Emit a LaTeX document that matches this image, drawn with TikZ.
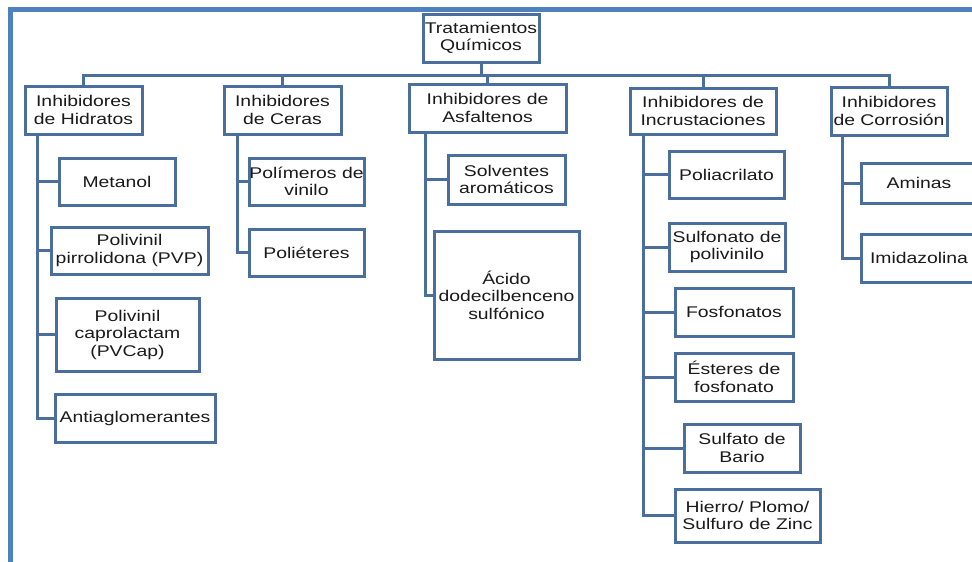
\documentclass[tikz,border=0pt]{standalone}
\usepackage{fontspec}
\usetikzlibrary{backgrounds}
\setmainfont[FakeStretch=1.25]{Liberation Sans}
\definecolor{framecol}{HTML}{4F81BD}
\definecolor{boxcol}{HTML}{4A6E9E}
\definecolor{txtcol}{HTML}{1A1A1A}
\tikzset{
  box/.style={draw=boxcol, line width=3pt, fill=white, inner sep=0pt, align=center,
    text=txtcol, font=\fontsize{15.5}{17.5}\selectfont},
  link/.style={draw=boxcol, line width=3pt}
}
\newcommand{\bx}[6]{\node[box, minimum width=#4pt, minimum height=#5pt] (#1) at (#2,#3) {#6};}
\begin{document}
\begin{tikzpicture}[x=1pt,y=-1pt]
\useasboundingbox (0,0) rectangle (972,562);
\clip (0,0) rectangle (972,562);

% root and level 1
\bx{root}{481}{38}{116}{48}{Tratamientos\\Químicos}
\bx{hid}{83.5}{110}{117}{48}{Inhibidores\\de Hidratos}
\bx{cer}{282.5}{110}{117}{48}{Inhibidores\\de Ceras}
\bx{asf}{487.5}{108}{157}{48}{Inhibidores de\\Asfaltenos}
\bx{inc}{703}{111}{146}{46}{Inhibidores de\\Incrustaciones}
\bx{cor}{889}{111}{116}{48}{Inhibidores\\de Corrosión}

% level 2
\bx{met}{117}{181.5}{116}{47}{Metanol}
\bx{pvp}{129.5}{250.5}{157}{47}{Polivinil\\pirrolidona (PVP)}
\bx{pvc}{127.5}{334.5}{143}{73}{Polivinil\\caprolactam\\(PVCap)}
\bx{ant}{135}{418}{160}{48}{Antiaglomerantes}
\bx{pol}{306.5}{181.5}{115}{47}{Polímeros de\\vinilo}
\bx{pet}{306.5}{252.5}{115}{47}{Poliéteres}
\bx{sol}{506.5}{179.5}{117}{49}{Solventes\\aromáticos}
\bx{aci}{506.5}{295}{145}{128}{Ácido\\dodecilbenceno\\sulfónico}
\bx{pac}{726.5}{174.5}{115}{47}{Poliacrilato}
\bx{sul}{727}{247}{116}{48}{Sulfonato de\\polivinilo}
\bx{fos}{734}{312}{118}{48}{Fosfonatos}
\bx{est}{734}{377}{118}{48}{Ésteres de\\fosfonato}
\bx{bar}{742}{448}{116}{48}{Sulfato de\\Bario}
\bx{hie}{747.5}{515.5}{145}{53}{Hierro/ Plomo/\\Sulfuro de Zinc}
\bx{ami}{919}{183}{116}{40}{Aminas}
\bx{imi}{919}{258}{116}{48}{Imidazolina}

\begin{pgfonlayer}{background}
\fill[white] (0,0) rectangle (972,562);
\draw[framecol, line width=5pt] (10.5,9.5) rectangle (1010,620);
% bus
\coordinate (bus) at (0,75);
\draw[link] (root.south) -- (root.south |- bus);
\draw[link] (hid.north) -- (hid.north |- bus) -- (cor.north |- bus) -- (cor.north);
\draw[link] (cer.north) -- (cer.north |- bus);
\draw[link] (asf.north) -- (asf.north |- bus);
\draw[link] (inc.north) -- (inc.north |- bus);
% spines
\coordinate (hs) at (37,135);
\coordinate (cs) at (237,135);
\coordinate (as) at (425,133);
\coordinate (is) at (643,135);
\coordinate (ks) at (842,136);
\draw[link] (hs) |- (ant.west);
\foreach \c in {met,pvp,pvc} \draw[link] (hs |- \c.west) -- (\c.west);
\draw[link] (cs) |- (pet.west);
\draw[link] (cs |- pol.west) -- (pol.west);
\draw[link] (as) |- (aci.west);
\draw[link] (as |- sol.west) -- (sol.west);
\draw[link] (is) |- (hie.west);
\foreach \c in {pac,sul,fos,est,bar} \draw[link] (is |- \c.west) -- (\c.west);
\draw[link] (ks) |- (imi.west);
\draw[link] (ks |- ami.west) -- (ami.west);
\end{pgfonlayer}
\end{tikzpicture}
\end{document}
